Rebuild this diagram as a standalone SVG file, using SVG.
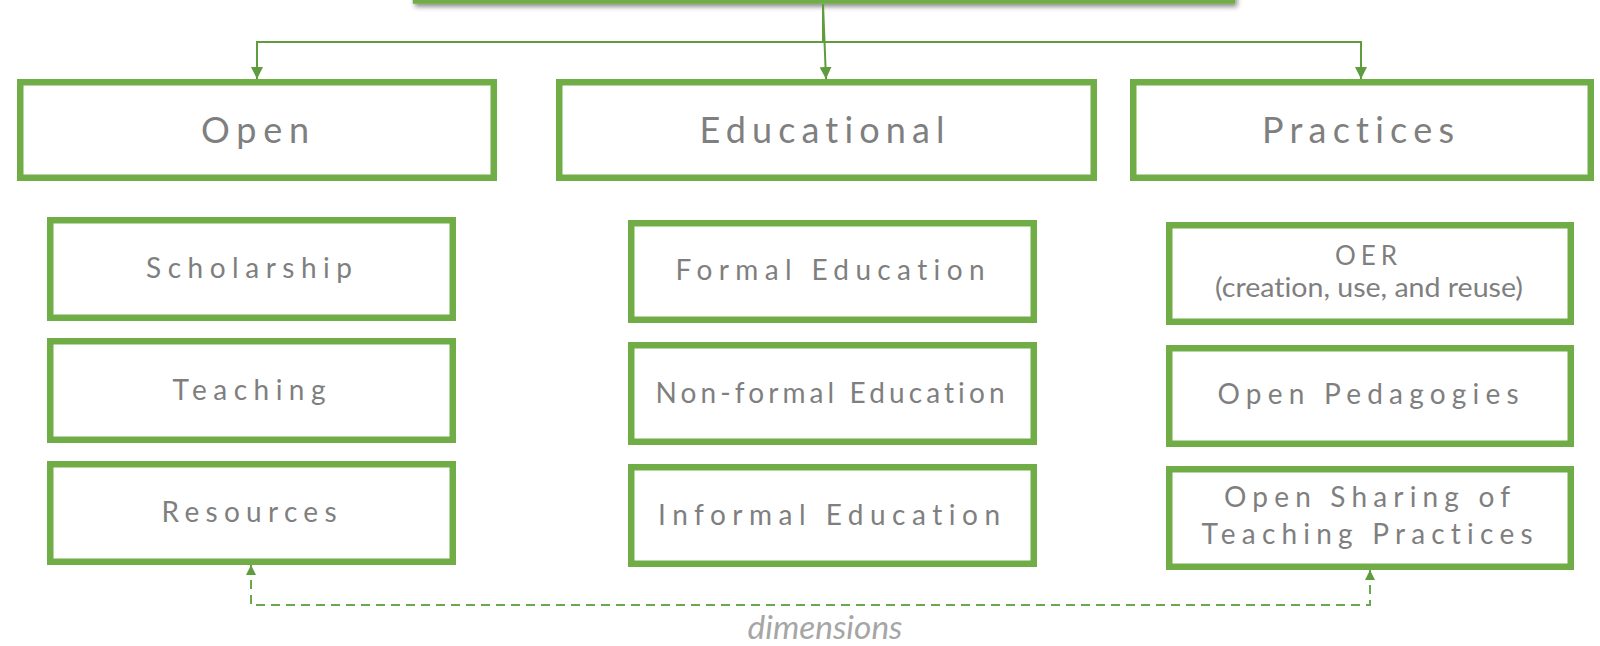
<svg xmlns="http://www.w3.org/2000/svg" width="1600" height="646" viewBox="0 0 1600 646">
<style>
.box{fill:#ffffff;stroke:#70ad47;stroke-width:6.5}
.lbl{font-family:Lato,"Open Sans","Liberation Sans",sans-serif;fill:#7f7f7f;text-anchor:middle;font-variant-ligatures:none}
.hd{font-size:36px}
.sb{font-size:28px}
.sm{font-size:26px}
.cr{font-size:27px}
.conn{fill:none;stroke:#5f9c3e;stroke-width:2}
.dash{fill:none;stroke:#6aa84f;stroke-width:2;stroke-dasharray:9 6}
.dim{font-family:Lato,"Open Sans","Liberation Sans",sans-serif;font-style:italic;font-size:32px;fill:#a6a6a6;text-anchor:middle}
</style>
<defs>
<marker id="arr" viewBox="0 0 12 12" refX="12" refY="6" markerWidth="12" markerHeight="12" markerUnits="userSpaceOnUse" orient="auto">
<path d="M0,0 L12,6 L0,12 Z" fill="#5f9c3e"/>
</marker>
<marker id="arrs" viewBox="0 0 10 10" refX="10" refY="5" markerWidth="10" markerHeight="10" markerUnits="userSpaceOnUse" orient="auto-start-reverse">
<path d="M0,0 L10,5 L0,10 Z" fill="#5f9c3e"/>
</marker>
<filter id="sh" x="-5%" y="-50%" width="110%" height="300%">
<feDropShadow dx="2" dy="3" stdDeviation="2.5" flood-color="#000000" flood-opacity="0.45"/>
</filter>
</defs>
<rect width="1600" height="646" fill="#ffffff"/>

<g id="top">
<rect class="box" x="416" y="-30" width="816" height="30.5" filter="url(#sh)"/>
</g>

<g id="connectors">
<path class="conn" d="M823,4 L823,42 L257,42 L257,79" marker-end="url(#arr)"/>
<path class="conn" d="M823,42 L1361,42 L1361,79" marker-end="url(#arr)"/>
<path class="conn" d="M823,4 L826,79" marker-end="url(#arr)"/>
<path class="dash" d="M251,565 L251,605 L1370,605 L1370,570" marker-start="url(#arrs)" marker-end="url(#arrs)"/>
<text class="dim" x="825" y="639" textLength="155" lengthAdjust="spacingAndGlyphs">dimensions</text>
</g>

<g id="open">
<rect class="box" x="20.25" y="82.25" width="473.5" height="95.5"/>
<text class="lbl hd" x="255" y="143" textLength="108" lengthAdjust="spacing">Open</text>
</g>
<g id="educational">
<rect class="box" x="559.25" y="82.25" width="534.5" height="95.5"/>
<text class="lbl hd" x="822" y="143" textLength="245" lengthAdjust="spacing">Educational</text>
</g>
<g id="practices">
<rect class="box" x="1133.25" y="82.25" width="457.5" height="95.5"/>
<text class="lbl hd" x="1358" y="143" textLength="192" lengthAdjust="spacing">Practices</text>
</g>

<g id="scholarship">
<rect class="box" x="50.25" y="220.25" width="402.5" height="97.5"/>
<text class="lbl sb" x="249" y="278" textLength="206" lengthAdjust="spacing">Scholarship</text>
</g>
<g id="teaching">
<rect class="box" x="50.25" y="341.25" width="402.5" height="98.5"/>
<text class="lbl sb" x="249" y="400" textLength="153" lengthAdjust="spacing">Teaching</text>
</g>
<g id="resources">
<rect class="box" x="50.25" y="464.25" width="402.5" height="97.5"/>
<text class="lbl sb" x="249" y="522" textLength="175" lengthAdjust="spacing">Resources</text>
</g>

<g id="formal">
<rect class="box" x="631.25" y="223.25" width="402.5" height="96.5"/>
<text class="lbl sb" x="830" y="280" textLength="309" lengthAdjust="spacing">Formal Education</text>
</g>
<g id="nonformal">
<rect class="box" x="631.25" y="345.25" width="402.5" height="96.5"/>
<text class="lbl sb" x="830" y="403" textLength="349" lengthAdjust="spacing">Non-formal Education</text>
</g>
<g id="informal">
<rect class="box" x="631.25" y="467.25" width="402.5" height="96.5"/>
<text class="lbl sb" x="829" y="525" textLength="342" lengthAdjust="spacing">Informal Education</text>
</g>

<g id="oer">
<rect class="box" x="1169.25" y="225.25" width="401.5" height="96.5"/>
<text class="lbl sm" x="1366" y="265" textLength="62" lengthAdjust="spacing">OER</text>
<text class="lbl cr" x="1369" y="297" textLength="308" lengthAdjust="spacingAndGlyphs">(creation, use, and reuse)</text>
</g>
<g id="pedagogies">
<rect class="box" x="1169.25" y="348.25" width="401.5" height="95.5"/>
<text class="lbl sb" x="1368" y="404" textLength="301" lengthAdjust="spacing">Open Pedagogies</text>
</g>
<g id="sharing">
<rect class="box" x="1169.25" y="469.25" width="401.5" height="97.5"/>
<text class="lbl sb" x="1367" y="507" textLength="286" lengthAdjust="spacing">Open Sharing of</text>
<text class="lbl sb" x="1367" y="544" textLength="331" lengthAdjust="spacing">Teaching Practices</text>
</g>
</svg>
